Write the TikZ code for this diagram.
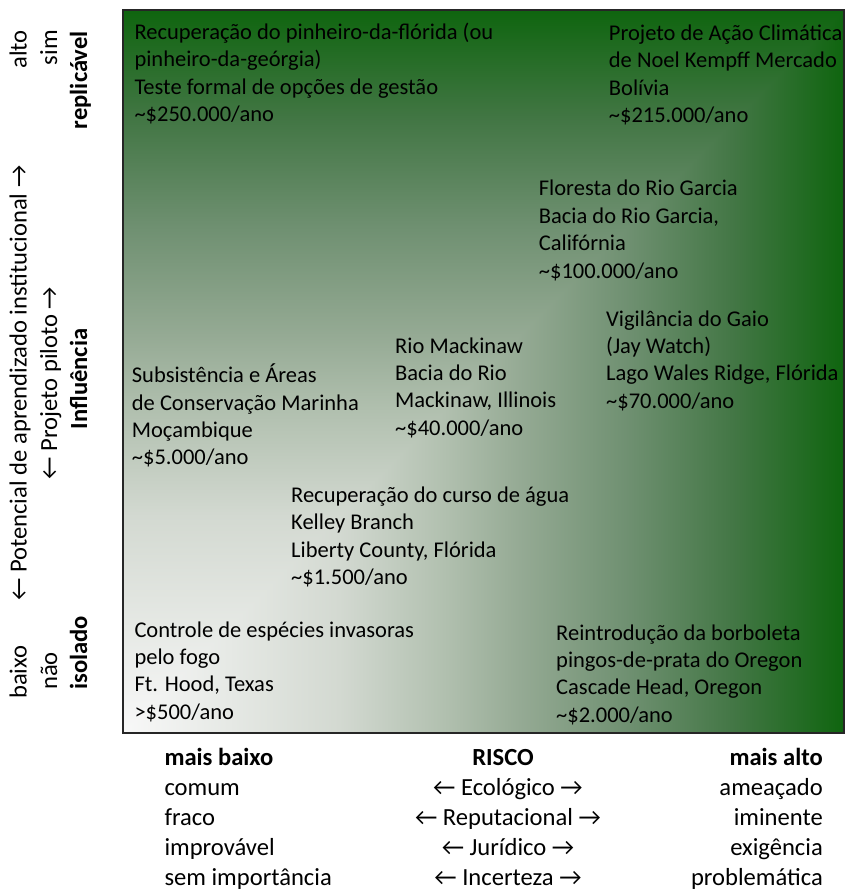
\documentclass[tikz,border=0pt]{standalone}
\usepackage{fontspec}
\setmainfont{Carlito}
\definecolor{g0}{HTML}{F8F8F8}
\definecolor{g1}{HTML}{D3D9D1}
\definecolor{g2}{HTML}{B0BFAE}
\definecolor{g3}{HTML}{95AA94}
\definecolor{g4}{HTML}{6F9071}
\definecolor{g5}{HTML}{427644}
\definecolor{g6}{HTML}{0F650F}
\pgfdeclarehorizontalshading{riskh}{100bp}{color(0bp)=(g0); color(25bp)=(g0); color(40bp)=(g1); color(47.5bp)=(g2); color(52.5bp)=(g3); color(60bp)=(g4); color(67.5bp)=(g5); color(75bp)=(g6); color(100bp)=(g6)}
\pgfdeclareverticalshading{riskv}{100bp}{color(0bp)=(g0); color(25bp)=(g0); color(40bp)=(g1); color(47.5bp)=(g2); color(52.5bp)=(g3); color(60bp)=(g4); color(67.5bp)=(g5); color(75bp)=(g6); color(100bp)=(g6)}
\newcommand\projfont{\fontsize{22.5}{27.4}\selectfont}
\newcommand\axfont{\fontsize{24.6}{30}\selectfont}
\newcommand\mylines[2][l]{\begin{tabular}[t]{@{}#1@{}}#2\end{tabular}}
\newcommand\tld{\textasciitilde}
\begin{document}
\begin{tikzpicture}[x=1pt,y=-1pt,
  proj/.style={anchor=base west, inner sep=0pt, font=\projfont, text=black},
  axlab/.style={inner sep=0pt, font=\axfont, text=black},
  frame/.style={draw=black!85, line width=1.5pt}]
\useasboundingbox (0,0) rectangle (846,890);
\coordinate (tl) at (123,10);
\coordinate (tr) at (844,10);
\coordinate (bl) at (123,733);
\coordinate (br) at (844,733);
% background gradient (rectangular, from bottom-left corner)
\shade[shading=riskh] (bl) -- (br) -- (tr) -- (tl) -- cycle;
\shade[shading=riskv] (bl) -- (tl) -- (tr) -- cycle;
\draw[frame] (tl) rectangle (br);
% projects
\node[proj] (pA) at (134.3,39.5) {\mylines{Recuperação do pinheiro-da-flórida (ou\\pinheiro-da-geórgia)\\Teste formal de opções de gestão\\\tld\$250.000/ano}};
\node[proj] (pB) at (608.7,40.5) {\mylines{Projeto de Ação Climática\\de Noel Kempff Mercado\\Bolívia\\\tld\$215.000/ano}};
\node[proj] (pC) at (538.7,196) {\mylines{Floresta do Rio Garcia\\Bacia do Rio Garcia,\\Califórnia\\\tld\$100.000/ano}};
\node[proj] (pD) at (606,326) {\mylines{Vigilância do Gaio\\(Jay Watch)\\Lago Wales Ridge, Flórida\\\tld\$70.000/ano}};
\node[proj] (pE) at (395,353) {\mylines{Rio Mackinaw\\Bacia do Rio\\Mackinaw, Illinois\\\tld\$40.000/ano}};
\node[proj] (pF) at (131.7,382.7) {\mylines{Subsistência e Áreas\\de Conservação Marinha\\Moçambique\\\tld\$5.000/ano}};
\node[proj] (pG) at (291,502.3) {\mylines{Recuperação do curso de água\\Kelley Branch\\Liberty County, Flórida\\\tld\$1.500/ano}};
\node[proj] (pH) at (134.3,637) {\mylines{Controle de espécies invasoras\\pelo fogo\\Ft. Hood, Texas\\>\$500/ano}};
\node[proj] (pI) at (556,640) {\mylines{Reintrodução da borboleta\\pingos-de-prata do Oregon\\Cascade Head, Oregon\\\tld\$2.000/ano}};
% vertical axis labels
\node[axlab, rotate=90, anchor=base east] (alto) at (26.5,30) {alto};
\node[axlab, rotate=90, anchor=base] (potencial) at (26.5,383) {← Potencial de aprendizado institucional →};
\node[axlab, rotate=90, anchor=base west] (baixo) at (26.5,699) {baixo};
\node[axlab, rotate=90, anchor=base east] (sim) at (57,30) {sim};
\node[axlab, rotate=90, anchor=base] (piloto) at (57,383) {← Projeto piloto →};
\node[axlab, rotate=90, anchor=base west] (nao) at (57,690) {não};
\node[axlab, rotate=90, anchor=base east] (replic) at (87,31) {\bfseries replicável};
\node[axlab, rotate=90, anchor=base] (influ) at (87,379) {\bfseries Influência};
\node[axlab, rotate=90, anchor=base west] (isol) at (87,690) {\bfseries isolado};
% horizontal axis labels
\node[axlab, anchor=base west] (low) at (164.3,765) {\mylines{\bfseries mais baixo\\comum\\fraco\\improvável\\sem importância}};
\node[axlab, anchor=base] (risco) at (508,765) {\mylines[c]{\bfseries RISCO\hspace*{10pt}\\← Ecológico →\\← Reputacional →\\← Jurídico →\\← Incerteza →}};
\node[axlab, anchor=base east] (high) at (823,765) {\mylines[r]{\bfseries mais alto\\ameaçado\\iminente\\exigência\\problemática}};
\end{tikzpicture}
\end{document}
